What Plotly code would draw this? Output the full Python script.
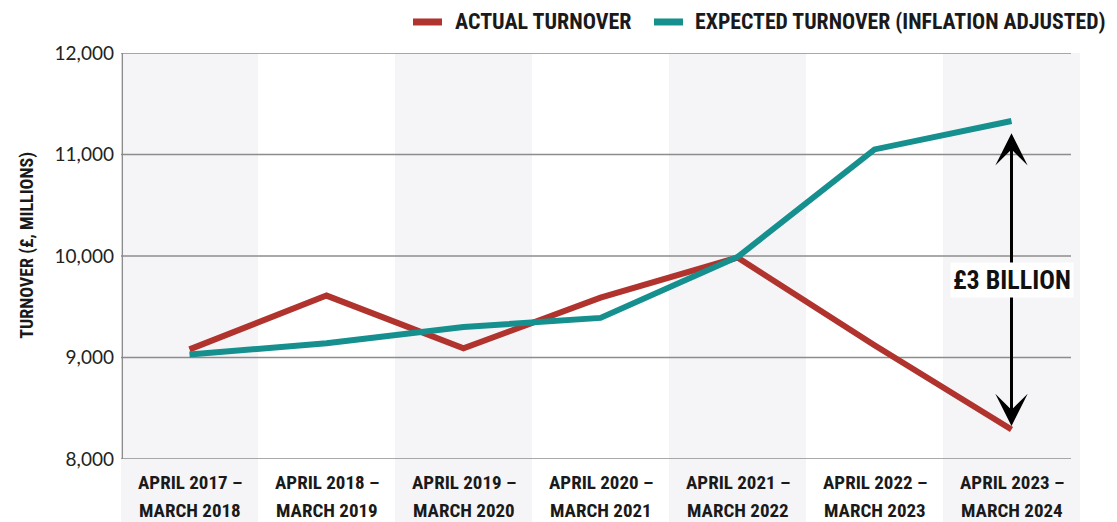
import plotly.graph_objects as go

# ---- data ----
categories = ["APRIL 2017 –|MARCH 2018", "APRIL 2018 –|MARCH 2019", "APRIL 2019 –|MARCH 2020",
              "APRIL 2020 –|MARCH 2021", "APRIL 2021 –|MARCH 2022", "APRIL 2022 –|MARCH 2023",
              "APRIL 2023 –|MARCH 2024"]
actual_turnover = [9080, 9610, 9090, 9590, 9985, 9120, 8290]
expected_turnover = [9030, 9140, 9300, 9390, 9990, 11050, 11330]
y_ticks = [8000, 9000, 10000, 11000, 12000]
gap_label = "£3 BILLION"
series_names = ["ACTUAL TURNOVER", "EXPECTED TURNOVER (INFLATION ADJUSTED)"]
y_title = "TURNOVER (£, MILLIONS)"

RED = "#B1332E"
TEAL = "#15908E"
GRID = "#8C8C8C"
BAND = "#F5F5F7"
COND = "Roboto Condensed, Arial Narrow, sans-serif"
REG = "Lato, Open Sans, sans-serif"

idx = list(range(len(categories)))
fig = go.Figure()
fig.add_trace(go.Scatter(x=idx, y=actual_turnover, mode="lines", name=series_names[0],
                         line=dict(color=RED, width=6), hoverinfo="x+y"))
fig.add_trace(go.Scatter(x=idx, y=expected_turnover, mode="lines", name=series_names[1],
                         line=dict(color=TEAL, width=6), hoverinfo="x+y"))

shapes = []
# alternating column bands
for i in idx:
    if i % 2 == 0:
        shapes.append(dict(type="rect", xref="x", yref="paper", x0=i - 0.5, x1=i + 0.5,
                           y0=-0.16, y1=1, fillcolor=BAND, line_width=0, layer="below"))
# gridlines
grid_end = len(categories) - 1 + 0.434
for v in y_ticks:
    shapes.append(dict(type="line", xref="x", yref="y", x0=-0.5, x1=grid_end, y0=v, y1=v,
                       line=dict(color=GRID, width=1.3), layer="below"))
# left axis line
shapes.append(dict(type="line", xref="x", yref="y", x0=-0.49, x1=-0.49, y0=y_ticks[0], y1=y_ticks[-1],
                   line=dict(color=GRID, width=1.3), layer="below"))
# legend dashes
shapes.append(dict(type="line", xref="paper", yref="paper", x0=0.3045, x1=0.3347, y0=1.0764, y1=1.0764,
                   line=dict(color=RED, width=7)))
shapes.append(dict(type="line", xref="paper", yref="paper", x0=0.5558, x1=0.5860, y0=1.0764, y1=1.0764,
                   line=dict(color=TEAL, width=7)))

annotations = []
# x category labels (two lines each)
for i, c in enumerate(categories):
    l1, l2 = c.split("|")
    annotations.append(dict(x=i, y=0, xref="x", yref="paper", xanchor="center", yanchor="middle", yshift=-23,
                            text="<b>" + l1 + "</b>", showarrow=False,
                            font=dict(family=COND, size=19, color="#1a1a1a")))
    annotations.append(dict(x=i, y=0, xref="x", yref="paper", xanchor="center", yanchor="middle", yshift=-51,
                            text="<b>" + l2 + "</b>", showarrow=False, borderpad=0,
                            font=dict(family=COND, size=19, color="#1a1a1a")))
# legend texts
annotations.append(dict(x=0.3462, y=1.0764, xref="paper", yref="paper", xanchor="left", yanchor="middle",
                        text="<b>" + series_names[0] + "</b>", showarrow=False,
                        font=dict(family=COND, size=22, color="#1a1a1a")))
annotations.append(dict(x=0.5965, y=1.0764, xref="paper", yref="paper", xanchor="left", yanchor="middle",
                        text="<b>" + series_names[1] + "</b>", showarrow=False,
                        font=dict(family=COND, size=21.8, color="#1a1a1a")))
# y axis title
annotations.append(dict(x=-0.098, y=0.525, xref="paper", yref="paper", xanchor="center", yanchor="middle",
                        textangle=-90, text="<b>" + y_title + "</b>", showarrow=False,
                        font=dict(family=COND, size=18, color="#1a1a1a")))
# double-headed gap arrow
last = len(categories) - 1
gap_top = expected_turnover[-1] - 120
gap_bottom = actual_turnover[-1] + 20
annotations.append(dict(x=last, y=gap_top, ax=last, ay=gap_bottom, xref="x", yref="y", axref="x", ayref="y",
                        text="", showarrow=True, arrowside="end+start", arrowhead=3, startarrowhead=3,
                        arrowsize=1.8, startarrowsize=1.8, arrowwidth=3, arrowcolor="black",
                        standoff=0, startstandoff=0))
annotations.append(dict(x=last, y=(gap_top + gap_bottom) / 2, xref="x", yref="y",
                        xanchor="center", yanchor="middle",
                        text="<b>" + gap_label + "</b>", showarrow=False, bgcolor="white", borderpad=2,
                        font=dict(family=COND, size=26, color="#111")))

# the page body adds an 8px offset, so the figure is sized to fill the rest of the window
fig.update_layout(
    width=1109, height=514,
    margin=dict(l=113, r=37, t=45, b=63, autoexpand=False),
    plot_bgcolor="white", paper_bgcolor="white",
    showlegend=False,
    shapes=shapes, annotations=annotations,
    xaxis=dict(range=[-0.5, len(categories) - 0.5], showgrid=False, zeroline=False, showline=False,
               showticklabels=False, fixedrange=True),
    yaxis=dict(range=[y_ticks[0], y_ticks[-1]], tickvals=y_ticks, tickformat=",d", showgrid=False,
               zeroline=False, showline=False, ticks="", ticklabelstandoff=6,
               tickfont=dict(family=REG, size=19, color="#222"), fixedrange=True),
)
fig.write_html("out.html")
